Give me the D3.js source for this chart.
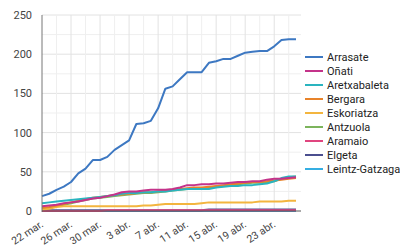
<!doctype html>
<html>
<head>
<meta charset="UTF-8">
<script src="https://d3js.org/d3.v7.min.js"></script>
<style>
  body { margin: 0; background: #fff; }
  text { font-family: Roboto, Arial, sans-serif; }
</style>
</head>
<body>
<svg id="chart" width="400" height="250"></svg>
<script>
// days 22 mar .. 26 abr
var start = new Date(2020, 2, 22);
var dates = d3.timeDay.range(start, new Date(2020, 3, 27));
var tickLabels = ["22 mar.", "26 mar.", "30 mar.", "3 abr.", "7 abr.", "11 abr.", "15 abr.", "19 abr.", "23 abr."];
var yTicks = [0, 50, 100, 150, 200, 250];

var names = ["Arrasate", "Oñati", "Aretxabaleta", "Bergara", "Eskoriatza", "Antzuola", "Aramaio", "Elgeta", "Leintz-Gatzaga"];
var colors = ["#3d78c2", "#c4338a", "#2ab4bf", "#e8832a", "#f3b53f", "#7cb45c", "#e0457f", "#4b4f8f", "#35aee2"];

var arrasate = [19, 22, 27, 31, 37, 48, 54, 65, 65, 69, 78, 84, 90, 111, 112, 115, 131, 156, 159, 168, 177, 177, 177, 189, 191, 194, 194, 198, 202, 203, 204, 204, 210, 218, 219, 219];
var onati = [6, 7, 8, 10, 11, 12, 14, 16, 17, 19, 21, 24, 25, 25, 26, 27, 27, 27, 28, 30, 33, 33, 34, 34, 35, 35, 36, 37, 37, 38, 38, 40, 41, 41, 42, 43];
var aretxabaleta = [10, 11, 12, 13, 14, 15, 16, 17, 18, 19, 20, 22, 23, 23, 24, 24, 25, 25, 26, 27, 28, 28, 28, 28, 30, 31, 32, 32, 33, 33, 34, 35, 38, 42, 44, 44];
var bergara = [4, 5, 7, 9, 11, 13, 15, 17, 18, 19, 20, 21, 22, 23, 24, 24, 25, 26, 27, 28, 29, 30, 30, 31, 32, 33, 34, 35, 36, 37, 37, 38, 39, 40, 41, 42];
var eskoriatza = [2, 3, 5, 6, 6, 6, 6, 6, 6, 6, 6, 6, 6, 6, 7, 7, 8, 9, 9, 9, 9, 9, 10, 11, 11, 11, 11, 11, 11, 11, 12, 12, 12, 12, 13, 13];
var antzuola = [3, 4, 6, 8, 10, 12, 14, 16, 17, 18, 19, 20, 21, 22, 23, 23, 24, 25, 26, 27, 28, 29, 29, 30, 31, 32, 33, 34, 35, 36, 36, 37, 38, 41, 43, 44];
var aramaio = [0, 0, 0, 0, 0, 0, 0, 0, 0, 1, 1, 1, 1, 1, 1, 1, 1, 1, 1, 1, 1, 1, 1, 1, 1, 1, 1, 1, 1, 1, 1, 1, 1, 1, 1, 1];
var elgeta = [1, 1, 1, 1, 1, 1, 1, 1, 1, 1, 1, 1, 1, 1, 1, 1, 1, 1, 1, 1, 1, 1, 1, 2, 2, 2, 2, 2, 2, 2, 2, 2, 2, 2, 2, 2];
var leintz = [0, 0, 0, 0, 0, 0, 0, 0, 0, 0, 0, 0, 0, 0, 0, 0, 0, 0, 0, 0, 0, 0, 0, 0, 0, 0, 0, 0, 0, 0, 0, 0, 0, 0, 0, 0];

var series = [arrasate, onati, aretxabaleta, bergara, eskoriatza, antzuola, aramaio, elgeta, leintz];

var svg = d3.select("#chart");
var pLeft = 42, pRight = 296, gridRight = 301, pTop = 15, pBottom = 211;

var x = d3.scaleTime().domain([dates[0], dates[dates.length - 1]]).range([pLeft, pRight]);
var y = d3.scaleLinear().domain([0, 250]).range([pBottom, pTop]);

// grid: minor every 25 / every 2 days, major at ticks
var g = svg.append("g");
d3.range(25, 251, 25).forEach(function (v) {
    g.append("line").attr("x1", pLeft).attr("x2", gridRight)
        .attr("y1", y(v)).attr("y2", y(v))
        .attr("stroke", v % 50 === 0 ? "#e2e2e2" : "#efefef").attr("stroke-width", 1);
});
dates.forEach(function (d, i) {
    if (i === 0 || i % 2 !== 0) return;
    g.append("line").attr("x1", x(d)).attr("x2", x(d))
        .attr("y1", pTop).attr("y2", pBottom)
        .attr("stroke", i % 4 === 0 ? "#e2e2e2" : "#efefef").attr("stroke-width", 1);
});

// y axis labels
svg.selectAll(".ylab").data(yTicks).enter().append("text")
    .attr("x", 32).attr("y", function (d) { return y(d) + 4; })
    .attr("text-anchor", "end").attr("font-size", 11).attr("fill", "#444")
    .text(function (d) { return d; });

// x axis labels
var tickDates = dates.filter(function (d, i) { return i % 4 === 0; });
svg.selectAll(".xlab").data(tickDates).enter().append("text")
    .attr("transform", function (d) { return "translate(" + (x(d) + 2) + ",226) rotate(-33)"; })
    .attr("text-anchor", "end").attr("font-size", 10.5).attr("fill", "#444")
    .text(function (d, i) { return tickLabels[i]; });

// lines
var line = d3.line()
    .x(function (d, i) { return x(dates[i]); })
    .y(function (d) { return y(d); });

series.slice().reverse().forEach(function (s, k) {
    var idx = series.length - 1 - k;
    svg.append("path").datum(s)
        .attr("d", line)
        .attr("fill", "none")
        .attr("stroke", colors[idx])
        .attr("stroke-width", 2)
        .attr("stroke-linejoin", "round");
});

// axes lines
svg.append("line").attr("x1", pLeft).attr("x2", pLeft).attr("y1", pTop).attr("y2", pBottom + 1)
    .attr("stroke", "#777").attr("stroke-width", 1);
svg.append("line").attr("x1", pLeft).attr("x2", gridRight).attr("y1", pBottom).attr("y2", pBottom)
    .attr("stroke", "#555").attr("stroke-width", 1);

// legend
var leg = svg.selectAll(".leg").data(names).enter().append("g")
    .attr("transform", function (d, i) { return "translate(305," + (57 + i * 14) + ")"; });
leg.append("line").attr("x1", 0).attr("x2", 18).attr("y1", 0).attr("y2", 0)
    .attr("stroke", function (d, i) { return colors[i]; }).attr("stroke-width", 2);
leg.append("text").attr("x", 22).attr("y", 4)
    .attr("font-size", 11).attr("fill", "#222")
    .text(function (d) { return d; });
</script>
</body>
</html>
